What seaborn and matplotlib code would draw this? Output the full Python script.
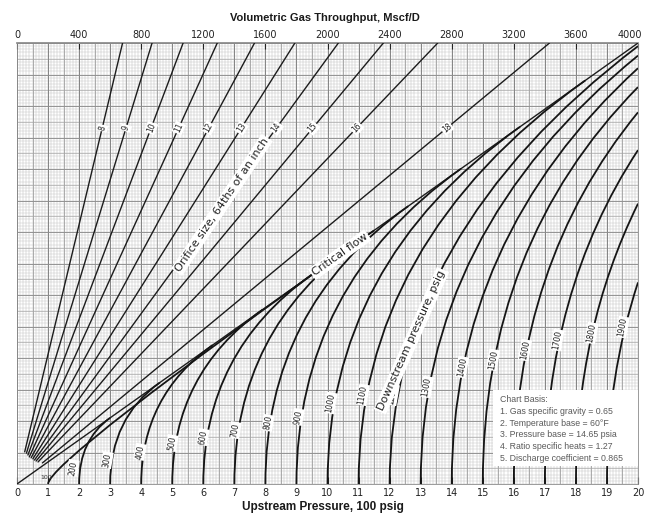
import numpy as np
import pandas as pd
import matplotlib
matplotlib.use("Agg")
import matplotlib.pyplot as plt
import matplotlib.transforms as mtransforms
import seaborn as sns
from matplotlib.path import Path
from matplotlib.patches import PathPatch, Rectangle

# Orifice size lines (64ths of an inch): throughput where each meets the top edge
orifice_sizes = [8, 9, 10, 11, 12, 13, 14, 15, 16, 18]
orifice_top_mscfd = [680, 870, 1070, 1290, 1530, 1790, 2070, 2360, 2710, 3430]
orifice_start_y = [1.02, 0.98, 0.92, 0.86, 0.83, 0.80, 0.76, 0.73, 0.70, 0.67]
orifice_label_y = 11.3

# Downstream pressure curves (psig); they start at upstream = downstream
merge_psig = [100, 200, 300, 400, 500, 600, 700, 800, 900, 1000, 1100]
merge_x = [11.5, 3.0, 4.6, 6.3, 7.9, 9.5, 11.0, 12.6, 14.3, 16.2, 18.3]
edge_psig = [1200, 1300, 1400, 1500, 1600, 1700, 1800, 1900]
edge_y = [13.9, 13.6, 13.2, 12.6, 11.8, 10.6, 8.9, 6.4]
edge_slope = [0.75, 0.8, 0.9, 1.0, 1.2, 1.5, 2.0, 3.0]

label_psig = [200, 300, 400, 500, 600, 700, 800, 900, 1000,
              1100, 1200, 1300, 1400, 1500, 1600, 1700, 1800, 1900]
label_x = [1.80, 2.90, 3.96, 4.99, 5.99, 7.02, 8.08, 9.05, 10.1,
           11.14, 12.1, 13.2, 14.33, 15.33, 16.36, 17.4, 18.5, 19.5]
label_y = [0.51, 0.76, 1.02, 1.30, 1.49, 1.71, 1.94, 2.13, 2.57,
           2.83, 2.83, 3.08, 3.71, 3.94, 4.25, 4.57, 4.79, 4.98]

crit_slope = 0.7   # critical flow line runs corner to corner
x_max, y_max = 20, 14

basis_lines = ["Chart Basis:",
               "1. Gas specific gravity = 0.65",
               "2. Temperature base = 60\u00b0F",
               "3. Pressure base = 14.65 psia",
               "4. Ratio specific heats = 1.27",
               "5. Discharge coefficient = 0.865"]

sns.set_theme(style="white")
plt.rcParams["font.family"] = ["DejaVu Sans"]

fig = plt.figure(figsize=(6.48, 5.16), dpi=100)
ax = fig.add_axes([17 / 648, 32 / 516, 621 / 648, 441 / 516])
ax.set_xlim(0, x_max)
ax.set_ylim(0, y_max)

# graph paper
ax.vlines(np.arange(0, 20.01, 0.1), 0, y_max, color="#bdbdbd", lw=0.35, zorder=0)
ax.hlines(np.arange(0, 14.01, 0.1), 0, x_max, color="#c8c8c8", lw=0.35, zorder=0)
ax.vlines(np.arange(0, 20.01, 0.5), 0, y_max, color="#9a9a9a", lw=0.55, zorder=0)
ax.hlines(np.arange(0, 14.01, 0.5), 0, x_max, color="#a6a6a6", lw=0.45, zorder=0)
ax.vlines(np.arange(0, 20.01, 1), 0, y_max, color="#858585", lw=0.7, zorder=0)
ax.hlines(np.arange(0, 14.01, 1), 0, x_max, color="#8e8e8e", lw=0.6, zorder=0)

# straight lines: orifice sizes and critical flow
rows = []
for d, q, ys in zip(orifice_sizes, orifice_top_mscfd, orifice_start_y):
    xt = q / 200
    rows.append({"line": f"o{d}", "x": xt * ys / y_max, "y": ys})
    rows.append({"line": f"o{d}", "x": xt, "y": y_max})
rows.append({"line": "crit", "x": 0, "y": 0})
rows.append({"line": "crit", "x": x_max, "y": crit_slope * x_max})
lines = pd.DataFrame(rows)
sns.lineplot(data=lines, x="x", y="y", units="line", estimator=None,
             color="#1c1c1c", lw=1.0, sort=False, legend=False, ax=ax, zorder=3)

# downstream pressure curves
def curve(p0, ctrl, p1):
    path = Path([p0, ctrl, p1], [Path.MOVETO, Path.CURVE3, Path.CURVE3])
    ax.add_patch(PathPatch(path, fill=False, ec="#151515", lw=1.3, zorder=3,
                           capstyle="butt"))

for p, xm in zip(merge_psig, merge_x):
    x0 = p / 100
    curve((x0, 0), (x0, crit_slope * x0), (xm, crit_slope * xm))
for p, ye, s in zip(edge_psig, edge_y, edge_slope):
    x0 = p / 100
    curve((x0, 0), (x0, ye - s * (x_max - x0)), (x_max, ye))


def disp_angle(x0, y0, x1, y1):
    a = ax.transData.transform([(x0, y0), (x1, y1)])
    return np.degrees(np.arctan2(a[1, 1] - a[0, 1], a[1, 0] - a[0, 0]))


small_box = dict(boxstyle="square,pad=0.12", fc="white", ec="none")
for d, q in zip(orifice_sizes, orifice_top_mscfd):
    xt = q / 200
    xl = xt * orifice_label_y / y_max
    ax.text(xl, orifice_label_y, str(d), fontsize=5.5, ha="center", va="center",
            rotation=disp_angle(0, 0, xt, y_max), rotation_mode="anchor",
            bbox=small_box, zorder=5, color="#222222")

for p, xl, yl in zip(label_psig, label_x, label_y):
    ax.text(xl, yl, str(p), fontsize=5.5, ha="center", va="center", rotation=80,
            rotation_mode="anchor", bbox=small_box, zorder=5, color="#222222")
ax.text(0.95, 0.2, "100", fontsize=4.5, ha="center", va="center", color="#333333",
        zorder=5)

big_box = dict(boxstyle="square,pad=0.15", fc="white", ec="none")
ax.text(6.6, 8.86, "Orifice size, 64ths of an inch", fontsize=8, ha="center",
        va="center", rotation=56, rotation_mode="anchor", bbox=big_box, zorder=6,
        color="#222222")
ax.text(10.4, crit_slope * 10.4, "Critical flow", fontsize=8, ha="center",
        va="center", rotation=disp_angle(0, 0, x_max, y_max),
        rotation_mode="anchor", bbox=big_box, zorder=6, color="#222222")
ax.text(12.7, 4.55, "Downstream pressure, psig", fontsize=8, ha="center",
        va="center", rotation=66, rotation_mode="anchor", bbox=big_box, zorder=6,
        color="#222222")

# chart basis box
ax.add_patch(Rectangle((0.767, 0.041), 0.233, 0.172, transform=ax.transAxes,
                       fc="white", ec="none", zorder=7))
for i, t in enumerate(basis_lines):
    ax.text(0.777, 0.191 - i * 0.0265, t, transform=ax.transAxes,
            fontsize=6.3, family="Liberation Sans", color="#5a5a5a",
            va="center", ha="left", zorder=8)

# axes
ax.set_xticks(range(0, 21))
ax.set_yticks([])
ax.tick_params(axis="x", direction="in", length=5, width=0.8, labelsize=7,
               pad=3, colors="#222222", bottom=True)
ax.set_xlabel("")
ax.set_ylabel("")
for s in ax.spines.values():
    s.set_color("#8a8a8a")
    s.set_linewidth(0.6)

top = ax.secondary_xaxis("top", functions=(lambda x: x * 200, lambda q: q / 200))
top.set_xticks(range(0, 4001, 400))
top.tick_params(direction="in", length=4, width=0.8, labelsize=7, pad=2,
                colors="#222222")
top.spines["top"].set_color("#8a8a8a")
# keep the last top label inside the figure
fig.canvas.draw()
last = top.get_xticklabels()[-1]
last.set_transform(last.get_transform() +
                   mtransforms.ScaledTranslation(-6 / 72, 0, fig.dpi_scale_trans))

fig.text(325 / 648, 1 - 18 / 516, "Volumetric Gas Throughput, Mscf/D",
         ha="center", va="center", fontsize=8, fontweight="bold",
         family="Liberation Sans", color="#1a1a1a")
fig.text(323 / 648, 1 - 507 / 516, "Upstream Pressure, 100 psig",
         ha="center", va="center", fontsize=8.5, fontweight="bold",
         family="Liberation Sans", color="#1a1a1a")

fig.savefig("out.png", dpi=100)
